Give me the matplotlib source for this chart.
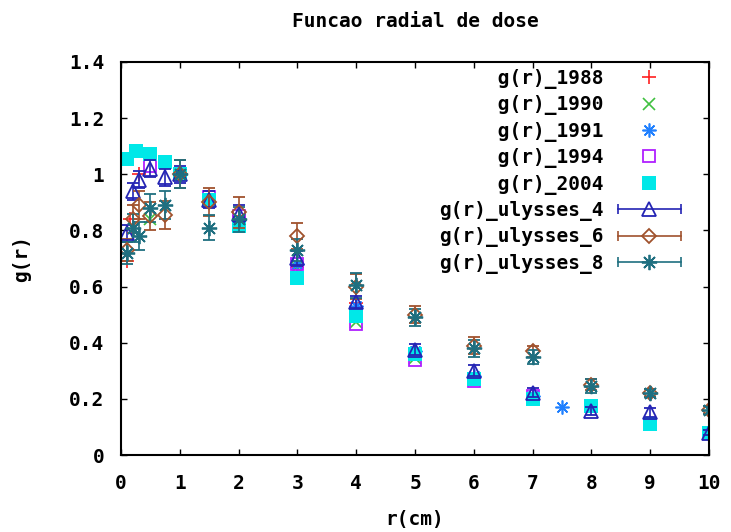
import matplotlib
matplotlib.use("Agg")
import matplotlib.pyplot as plt
from matplotlib.lines import Line2D
from matplotlib.legend_handler import HandlerLine2D

plt.rcParams["font.family"] = "DejaVu Sans Mono"
plt.rcParams["font.weight"] = "bold"
plt.rcParams["font.size"] = 14

# medidas de referencia
r_1988 = [0.1, 0.15, 0.3, 1.0, 1.5, 2.0, 3.0, 4.0, 5.0]
g_1988 = [0.69, 0.84, 1.0, 1.0, 0.91, 0.85, 0.67, 0.54, 0.37]

r_1990 = [0.5, 1.0, 1.5, 2.0, 3.0, 4.0, 5.0]
g_1990 = [0.84, 1.0, 0.91, 0.83, 0.67, 0.475, 0.345]

r_1991 = [1.0, 2.0, 3.0, 4.0, 5.0, 6.0, 7.0, 7.5]
g_1991 = [1.0, 0.84, 0.68, 0.53, 0.37, 0.28, 0.21, 0.172]

r_1994 = [0.5, 1.0, 1.5, 2.0, 3.0, 4.0, 5.0, 6.0, 7.0]
g_1994 = [1.03, 1.0, 0.92, 0.85, 0.68, 0.465, 0.34, 0.265, 0.21]

r_2004 = [0.1, 0.25, 0.5, 0.75, 1.0, 1.5, 2.0, 3.0, 4.0, 5.0, 6.0, 7.0, 8.0, 9.0, 10.0]
g_2004 = [1.055, 1.082, 1.071, 1.042, 1.0, 0.908, 0.814, 0.632, 0.496, 0.36, 0.27, 0.199, 0.175, 0.109, 0.08]

# simulacoes ulysses
r_uly = [0.1, 0.2, 0.3, 0.5, 0.75, 1.0, 1.5, 2.0, 3.0, 4.0, 5.0, 6.0, 7.0, 8.0, 9.0, 10.0]
g_uly4 = [0.79, 0.94, 0.98, 1.02, 0.99, 1.0, 0.91, 0.86, 0.70, 0.545, 0.375, 0.30, 0.222, 0.157, 0.152, 0.08]
e_uly4 = [0.03, 0.03, 0.03, 0.03, 0.03, 0.03, 0.03, 0.03, 0.025, 0.02, 0.02, 0.02, 0.015, 0.015, 0.015, 0.01]
g_uly6 = [0.73, 0.84, 0.89, 0.85, 0.855, 1.0, 0.90, 0.865, 0.78, 0.60, 0.50, 0.39, 0.37, 0.25, 0.22, 0.16]
e_uly6 = [0.04, 0.05, 0.05, 0.05, 0.05, 0.05, 0.05, 0.055, 0.045, 0.045, 0.03, 0.03, 0.02, 0.02, 0.015, 0.015]
g_uly8 = [0.72, 0.81, 0.78, 0.88, 0.89, 1.0, 0.81, 0.84, 0.73, 0.605, 0.49, 0.38, 0.35, 0.245, 0.22, 0.16]
e_uly8 = [0.04, 0.05, 0.05, 0.05, 0.05, 0.05, 0.045, 0.045, 0.04, 0.045, 0.03, 0.03, 0.025, 0.025, 0.015, 0.015]

x_ticks = [0, 1, 2, 3, 4, 5, 6, 7, 8, 9, 10]
y_ticks = [0, 0.2, 0.4, 0.6, 0.8, 1.0, 1.2, 1.4]
y_tick_labels = ["0", "0.2", "0.4", "0.6", "0.8", "1", "1.2", "1.4"]

fig = plt.figure(figsize=(7.31, 5.32), dpi=100)
ax = fig.add_axes([0.1655, 0.1447, 0.8045, 0.7388])

ast = (8, 2, 0)

ax.plot(r_1988, g_1988, ls="none", marker="+", ms=10, mew=1.2, color="#ff2020")
ax.plot(r_1990, g_1990, ls="none", marker="x", ms=9, mew=1.2, color="#40c040")
ax.plot(r_1991, g_1991, ls="none", marker=ast, ms=10, mew=1.2, color="#2080ff")
ax.plot(r_1994, g_1994, ls="none", marker="s", ms=9, mew=1.3, mfc="none", color="#b020ff")
ax.plot(r_2004, g_2004, ls="none", marker="s", ms=10, mew=0, color="#00e8e8")

uly = [
    (g_uly4, e_uly4, "^", "#2424b4", 10),
    (g_uly6, e_uly6, "D", "#a0522d", 7),
    (g_uly8, e_uly8, ast, "#1f6f80", 11),
]
for g, e, mk, col, ms in uly:
    ax.errorbar(r_uly, g, yerr=e, ls="none", marker=mk, ms=ms, mfc="none",
                mec=col, mew=1.3, ecolor=col, elinewidth=1.2, capsize=4, capthick=1.2)

ax.set_xlim(0, 10)
ax.set_ylim(0, 1.4)
ax.set_xticks(x_ticks)
ax.set_yticks(y_ticks)
ax.set_yticklabels(y_tick_labels)
ax.tick_params(direction="in", length=4, width=1, top=True, right=True)
ax.tick_params(axis="x", pad=14)
ax.tick_params(axis="y", pad=12)
for s in ax.spines.values():
    s.set_linewidth(1.5)

ax.set_title("Funcao radial de dose", fontsize=14, fontweight="bold", pad=25)
ax.set_xlabel("r(cm)", fontsize=14, fontweight="bold", labelpad=12)
ax.set_ylabel("g(r)", fontsize=14, fontweight="bold", labelpad=27)

# legenda no estilo gnuplot
labels = ["g(r)_1988", "g(r)_1990", "g(r)_1991", "g(r)_1994", "g(r)_2004",
          "g(r)_ulysses_4", "g(r)_ulysses_6", "g(r)_ulysses_8"]
width = max(len(s) for s in labels)
labels = [s.rjust(width) for s in labels]

handles = [
    Line2D([], [], ls="none", marker="+", ms=10, mew=1.2, color="#ff2020"),
    Line2D([], [], ls="none", marker="x", ms=9, mew=1.2, color="#40c040"),
    Line2D([], [], ls="none", marker=ast, ms=10, mew=1.2, color="#2080ff"),
    Line2D([], [], ls="none", marker="s", ms=9, mew=1.3, mfc="none", color="#b020ff"),
    Line2D([], [], ls="none", marker="s", ms=10, mew=0, color="#00e8e8"),
]
hmap = {}
for g, e, mk, col, ms in uly:
    caps = Line2D([], [], color=col, lw=1.2, marker="|", ms=7, mew=1.2)
    mid = Line2D([], [], ls="none", marker=mk, ms=ms, mfc="none", mec=col, mew=1.3)
    hmap[caps] = HandlerLine2D(numpoints=2, marker_pad=0)
    handles.append((caps, mid))

ax.legend(handles, labels, handler_map=hmap, loc="upper right", bbox_to_anchor=(0.968, 1.007),
          frameon=False, markerfirst=False, numpoints=1, handlelength=3.2,
          handletextpad=0.77, labelspacing=0.33, borderpad=0, fontsize=14)

fig.savefig("out.png", dpi=100)
